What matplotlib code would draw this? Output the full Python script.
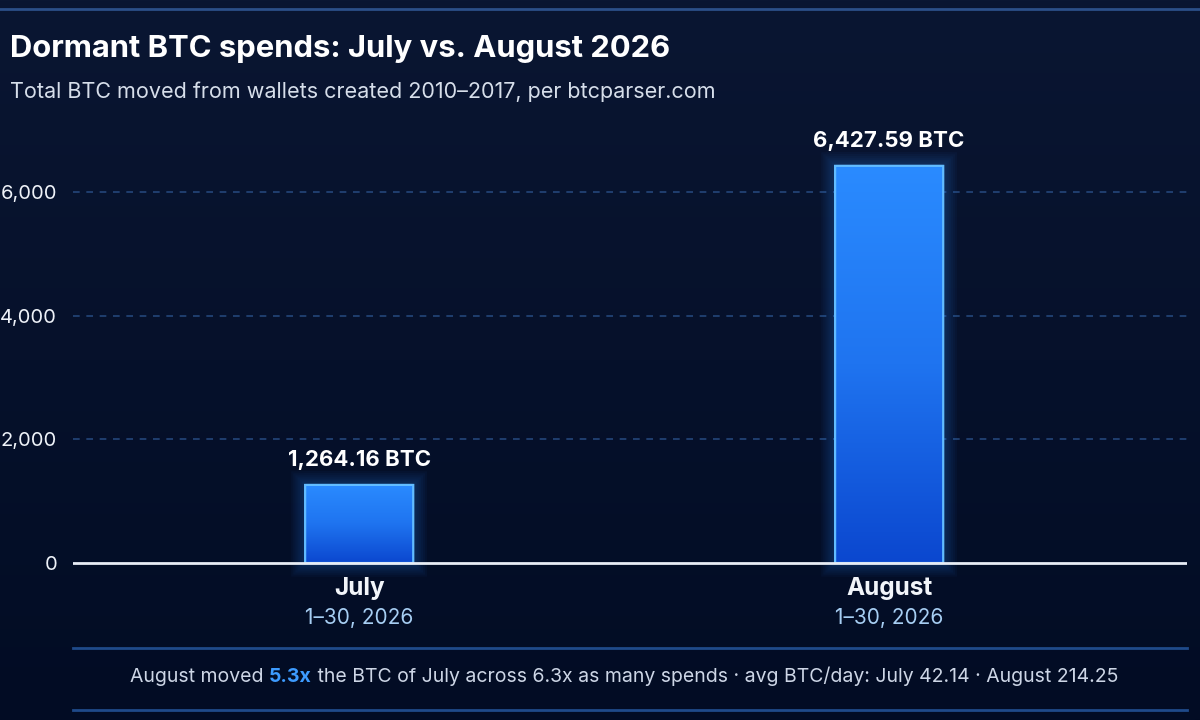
import matplotlib
matplotlib.use('Agg')
import matplotlib.pyplot as plt
import numpy as np
from matplotlib.patches import FancyBboxPatch
from matplotlib.colors import LinearSegmentedColormap
from matplotlib.offsetbox import TextArea, HPacker, AnchoredOffsetbox

plt.rcParams['font.family'] = ['Inter', 'DejaVu Sans']

# data
months = ['July', 'August']
date_ranges = ['1–30, 2026', '1–30, 2026']
btc_moved = [1264.16, 6427.59]
yticks = [0, 2000, 4000, 6000]

title = 'Dormant BTC spends: July vs. August 2026'
subtitle = 'Total BTC moved from wallets created 2010–2017, per btcparser.com'
footer_parts = ['August moved ', '5.3x', ' the BTC of July across 6.3x as many spends · avg BTC/day: July 42.14 · August 214.25']

fig = plt.figure(figsize=(12, 7.2), dpi=100)

# background gradient
bg = fig.add_axes([0, 0, 1, 1], zorder=-10)
bg_cmap = LinearSegmentedColormap.from_list('bg', ['#0a1632', '#020c24'])
bg.imshow(np.linspace(0, 1, 256).reshape(-1, 1), aspect='auto', cmap=bg_cmap, extent=[0, 1, 0, 1])
bg.set_xlim(0, 1)
bg.set_ylim(0, 1)
bg.axis('off')

# separator lines
fig.add_artist(plt.Line2D([0, 1], [1 - 9 / 720, 1 - 9 / 720], color='#2b4f88', lw=2))
fig.add_artist(plt.Line2D([73 / 1200, 1187 / 1200], [1 - 710 / 720, 1 - 710 / 720], color='#1f4a8a', lw=2))

ax = fig.add_axes([73 / 1200, 72 / 720, 1114 / 1200, 533 / 720])
ax.patch.set_alpha(0)
ax.set_xlim(-0.54, 1.562)
ax.set_ylim(-1375, 7250)

x = np.arange(len(months))
bars = ax.bar(x, btc_moved, width=0.204, color='none', edgecolor='none')

bar_cmap = LinearSegmentedColormap.from_list('bar', ['#0b47cf', '#1f74f0', '#2a8bff'])
for b in bars:
    bx, by, bw, bh = b.get_x(), b.get_y(), b.get_width(), b.get_height()
    # glow
    for k in range(7):
        glow = FancyBboxPatch((bx, by), bw, bh, boxstyle='round,pad=0,rounding_size=0.01',
                              mutation_aspect=60, fc='none', ec='#2f8cff',
                              lw=2 + k * 3, alpha=0.04, zorder=2)
        ax.add_patch(glow)
    patch = FancyBboxPatch((bx, by), bw, bh, boxstyle='round,pad=0,rounding_size=0.012',
                           mutation_aspect=60, fc='#1f74f0', ec='none', zorder=3)
    ax.add_patch(patch)
    im = ax.imshow(np.linspace(0, 1, 256).reshape(-1, 1), aspect='auto', cmap=bar_cmap,
                   extent=[bx, bx + bw, by, by + bh], origin='lower', zorder=3)
    im.set_clip_path(patch)
    edge = FancyBboxPatch((bx, by), bw, bh, boxstyle='round,pad=0,rounding_size=0.012',
                          mutation_aspect=60, fc='none', ec='#62bcff', lw=1.6, zorder=4)
    ax.add_patch(edge)
    b.remove()

ax.set_xlim(-0.54, 1.562)
ax.set_ylim(-1375, 7250)

for i, v in enumerate(btc_moved):
    ax.annotate(f'{v:,.2f} BTC', xy=(i, v), xytext=(0, 25), textcoords='offset pixels',
                ha='center', va='center', color='white', fontsize=16, fontweight='bold')
    ax.annotate(months[i], xy=(i, 0), xytext=(0, -25), textcoords='offset pixels',
                ha='center', va='center', color='#f2f5fa', fontsize=17.5, fontweight='bold')
    ax.annotate(date_ranges[i], xy=(i, 0), xytext=(0, -55), textcoords='offset pixels',
                ha='center', va='center', color='#a6cdf2', fontsize=15)

ax.set_yticks(yticks)
ax.set_yticklabels([f'{t:,}' for t in yticks])
ax.tick_params(axis='y', length=0, pad=11.5, labelsize=14.5, labelcolor='#eef2f8')
ax.set_xticks([])
for t in yticks[1:]:
    ax.axhline(t, color='#24467a', lw=1.2, ls=(0, (4, 4)), zorder=1)
ax.axhline(0, color='#e8edf5', lw=2, zorder=5)

for s in ['top', 'right', 'left']:
    ax.spines[s].set_visible(False)
ax.spines['bottom'].set_color('#1f4a8a')
ax.spines['bottom'].set_linewidth(2)

fig.text(10 / 1200, 1 - 49 / 720, title, color='white', fontsize=22.3, fontweight='bold', va='center')
fig.text(10 / 1200, 1 - 92 / 720, subtitle, color='#d6deea', fontsize=15.5, va='center')

parts = [
    TextArea(footer_parts[0], textprops=dict(color='#cdd6e6', fontsize=14)),
    TextArea(footer_parts[1], textprops=dict(color='#3d9bff', fontsize=14, fontweight='bold')),
    TextArea(footer_parts[2], textprops=dict(color='#cdd6e6', fontsize=14)),
]
box = HPacker(children=parts, align='baseline', pad=0, sep=0)
anch = AnchoredOffsetbox(loc='center', child=box, frameon=False,
                         bbox_to_anchor=(624 / 1200, 1 - 676 / 720), bbox_transform=fig.transFigure,
                         borderpad=0, pad=0)
fig.add_artist(anch)

fig.savefig('out.png', dpi=100, facecolor='#08122c')
